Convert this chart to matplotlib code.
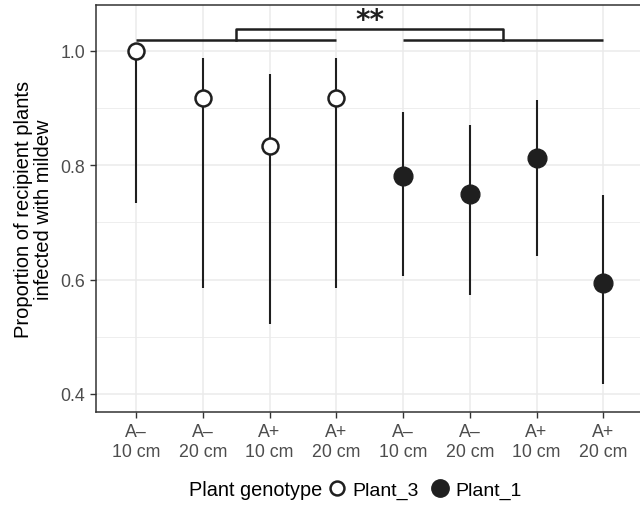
import matplotlib
matplotlib.use("Agg")
import matplotlib.pyplot as plt
from matplotlib.lines import Line2D
import numpy as np

plt.rcParams['font.family'] = ['Liberation Sans', 'DejaVu Sans']

# data
labels = ["A\u2013\n10 cm", "A\u2013\n20 cm", "A+\n10 cm", "A+\n20 cm",
          "A\u2013\n10 cm", "A\u2013\n20 cm", "A+\n10 cm", "A+\n20 cm"]
genotype = ["Plant_3"] * 4 + ["Plant_1"] * 4
prop = [1.0, 0.917, 0.833, 0.917, 0.781, 0.750, 0.8125, 0.594]
lower = [0.734, 0.586, 0.522, 0.586, 0.606, 0.573, 0.641, 0.418]
upper = [1.0, 0.988, 0.959, 0.988, 0.893, 0.871, 0.914, 0.748]

ink = "#1f1f1f"
x = np.arange(1, len(prop) + 1)

fig = plt.figure(figsize=(6.4, 5.06), dpi=100)
ax = fig.add_axes([96 / 640, 1 - 412.7 / 506, (643.3 - 96) / 640, (412.7 - 6) / 506])

ax.set_xlim(0.4, 8.6)
ax.set_ylim(0.369, 1.0804)

# grid like theme_bw
ax.set_yticks([0.4, 0.6, 0.8, 1.0])
ax.set_yticks([0.5, 0.7, 0.9], minor=True)
ax.set_xticks(x)
ax.set_xticklabels(labels, linespacing=1.3)
ax.set_axisbelow(True)
ax.grid(which="major", color="#ebebeb", lw=1.1)
ax.grid(which="minor", axis="y", color="#ebebeb", lw=0.6)
ax.tick_params(which="minor", length=0)
ax.tick_params(which="major", colors="#333333", labelcolor="#4d4d4d",
               labelsize=12.8, length=4.3, width=1.0, pad=3.5)
for s in ax.spines.values():
    s.set_color("#333333")
    s.set_linewidth(1.1)
ax.set_yticklabels(["0.4", "0.6", "0.8", "1.0"])

# error bars
ax.vlines(x, lower, upper, color=ink, lw=1.5, zorder=2)

for xi, p, g in zip(x, prop, genotype):
    if g == "Plant_3":
        ax.plot(xi, p, "o", ms=11.5, mfc="white", mec=ink, mew=1.8, zorder=3)
    else:
        ax.plot(xi, p, "o", ms=13.5, mfc=ink, mec=ink, zorder=3)

# significance bracket
yb, yt = 1.019, 1.0385
ax.plot([1, 4], [yb, yb], color=ink, lw=1.8, solid_capstyle="butt", zorder=4)
ax.plot([5, 8], [yb, yb], color=ink, lw=1.8, solid_capstyle="butt", zorder=4)
ax.plot([2.5, 2.5, 6.5, 6.5], [yb, yt, yt, yb], color=ink, lw=1.8, zorder=4)
ax.text(4.5, 1.055, "**", ha="center", va="center", fontsize=20, color=ink,
        family="DejaVu Sans", weight="bold")

ax.set_ylabel("Proportion of recipient plants\ninfected with mildew", fontsize=14.5,
              color="black", labelpad=5, linespacing=1.1)

# legend
fig.text(189 / 640, 1 - 491 / 506, "Plant genotype", fontsize=14.3, va="center", ha="left")
handles = [
    Line2D([], [], ls="none", marker="o", ms=10, mfc="white", mec=ink, mew=1.8),
    Line2D([], [], ls="none", marker="o", ms=12.5, mfc=ink, mec=ink),
]
fig.legend(handles, ["Plant_3", "Plant_1"], ncol=2, frameon=False,
           loc="center left", bbox_to_anchor=(327 / 640, 1 - 491 / 506),
           fontsize=14, handlelength=1.0, handletextpad=0.3, columnspacing=0.6,
           borderpad=0, borderaxespad=0)

fig.savefig("out.png", dpi=100)
